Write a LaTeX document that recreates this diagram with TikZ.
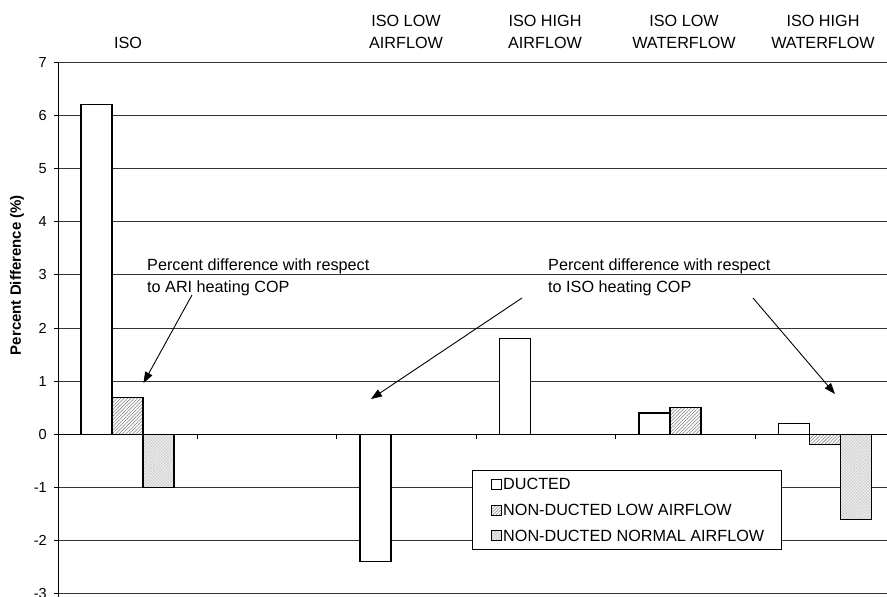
\documentclass[tikz,border=0pt]{standalone}
\usepackage{fontspec}
\setmainfont{Liberation Sans}
\usetikzlibrary{patterns,patterns.meta,arrows.meta}
\begin{document}
\begin{tikzpicture}[x=1pt,y=-1pt,
  declare function={yv(\v)=434.3-53.14*\v;},
  txt/.style={font=\fontsize{16.2}{22}\selectfont, inner sep=0pt},
  ticklab/.style={font=\fontsize{14.5}{17}\selectfont, inner sep=0pt, anchor=east},
  gridline/.style={line width=0.9pt, black!80},
  axisline/.style={line width=1pt, black},
  bar/.style={draw=black, line width=1.1pt},
  ducted/.style={bar, fill=white},
  lowair/.style={bar, preaction={fill=white}, pattern={Lines[angle=45,distance=2.4pt,line width=0.55pt]}, pattern color=black!50},
  normair/.style={bar, preaction={fill=black!6}, pattern={Hatch[angle=45,distance=2.2pt,line width=0.4pt]}, pattern color=black!20},
  arr/.style={line width=0.9pt, -{Triangle[length=11pt,width=8pt]}},
  legsq/.style={draw=black, line width=0.8pt, minimum size=10pt, inner sep=0pt}
]
\useasboundingbox (0,0) rectangle (887,597);
\fill[white] (0,0) rectangle (887,597);

% grid lines
\foreach \v in {7,6,5,4,3,2,1,-1,-2,-3}{
  \draw[gridline] (58,{yv(\v)}) -- (887,{yv(\v)});
  \draw[axisline] (54,{yv(\v)}) -- (58,{yv(\v)});
  \node[ticklab] at (47,{yv(\v)}) {\v};
}
\node[ticklab] at (47,{yv(0)}) {0};
\draw[axisline] (54,{yv(0)}) -- (58,{yv(0)});

% bars: ISO
\draw[ducted] (81,{yv(0)}) rectangle (112,{yv(6.2)});
\draw[lowair] (112,{yv(0)}) rectangle (143,{yv(0.7)});
\draw[normair] (143,{yv(0)}) rectangle (174,{yv(-1.0)});
% ISO LOW AIRFLOW
\draw[ducted] (360,{yv(0)}) rectangle (391,{yv(-2.4)});
% ISO HIGH AIRFLOW
\draw[ducted] (499.5,{yv(0)}) rectangle (530.5,{yv(1.8)});
% ISO LOW WATERFLOW
\draw[ducted] (639,{yv(0)}) rectangle (670,{yv(0.4)});
\draw[lowair] (670,{yv(0)}) rectangle (701,{yv(0.5)});
% ISO HIGH WATERFLOW
\draw[ducted] (778.5,{yv(0)}) rectangle (809.5,{yv(0.2)});
\draw[lowair] (809.5,{yv(0)}) rectangle (840.5,{yv(-0.2)});
\draw[normair] (840.5,{yv(0)}) rectangle (871.5,{yv(-1.6)});

% axes
\draw[axisline] (58,{yv(0)}) -- (887,{yv(0)});
\foreach \x in {197,336.5,476,615.5,755}{
  \draw[axisline] (\x,{yv(0)}) -- (\x,{yv(0)+5});
}
\draw[axisline] (58,{yv(7)}) -- (58,597);

% category labels
\node[txt, anchor=base] (cISO) at (128,48) {ISO};
\node[txt, anchor=base, align=center] (cLA) at (406,48) {ISO LOW\\AIRFLOW};
\node[txt, anchor=base, align=center] (cHA) at (545,48) {ISO HIGH\\AIRFLOW};
\node[txt, anchor=base, align=center] (cLW) at (684,48) {ISO LOW\\WATERFLOW};
\node[txt, anchor=base, align=center] (cHW) at (823,48) {ISO HIGH\\WATERFLOW};

% y-axis title
\node[font=\fontsize{15}{18}\selectfont\bfseries, rotate=90, inner sep=0pt] (ytitle) at (17,275) {Percent Difference (\%)};

% annotations
\node[txt, anchor=base west, align=left] (noteA) at (147,292) {Percent difference with respect\\to ARI heating COP};
\node[txt, anchor=base west, align=left] (noteB) at (548,292) {Percent difference with respect\\to ISO heating COP};
\coordinate (aS) at (192,295);
\coordinate (aE) at (143.5,383);
\coordinate (bS) at (522,298);
\coordinate (bE) at (371,399);
\coordinate (cS) at (753,298);
\coordinate (cE) at (835,394);
\draw[arr] (aS) -- (aE);
\draw[arr] (bS) -- (bE);
\draw[arr] (cS) -- (cE);

% legend
\node[draw=black, line width=1pt, fill=white, minimum width=308.5pt, minimum height=79pt, inner sep=0pt] (legend) at (627.2,509.5) {};
\node[legsq, fill=white] (sq1) at (496,484) {};
\node[legsq, preaction={fill=white}, pattern={Lines[angle=45,distance=2.2pt,line width=0.5pt]}, pattern color=black!50] (sq2) at (496,510) {};
\node[legsq, preaction={fill=black!6}, pattern={Hatch[angle=45,distance=2pt,line width=0.4pt]}, pattern color=black!22] (sq3) at (496,535.5) {};
\node[txt, anchor=west] (lg1) at (503,484) {DUCTED};
\node[txt, anchor=west] (lg2) at (503,510) {NON-DUCTED LOW AIRFLOW};
\node[txt, anchor=west] (lg3) at (503,535.5) {NON-DUCTED NORMAL AIRFLOW};
\end{tikzpicture}
\end{document}
